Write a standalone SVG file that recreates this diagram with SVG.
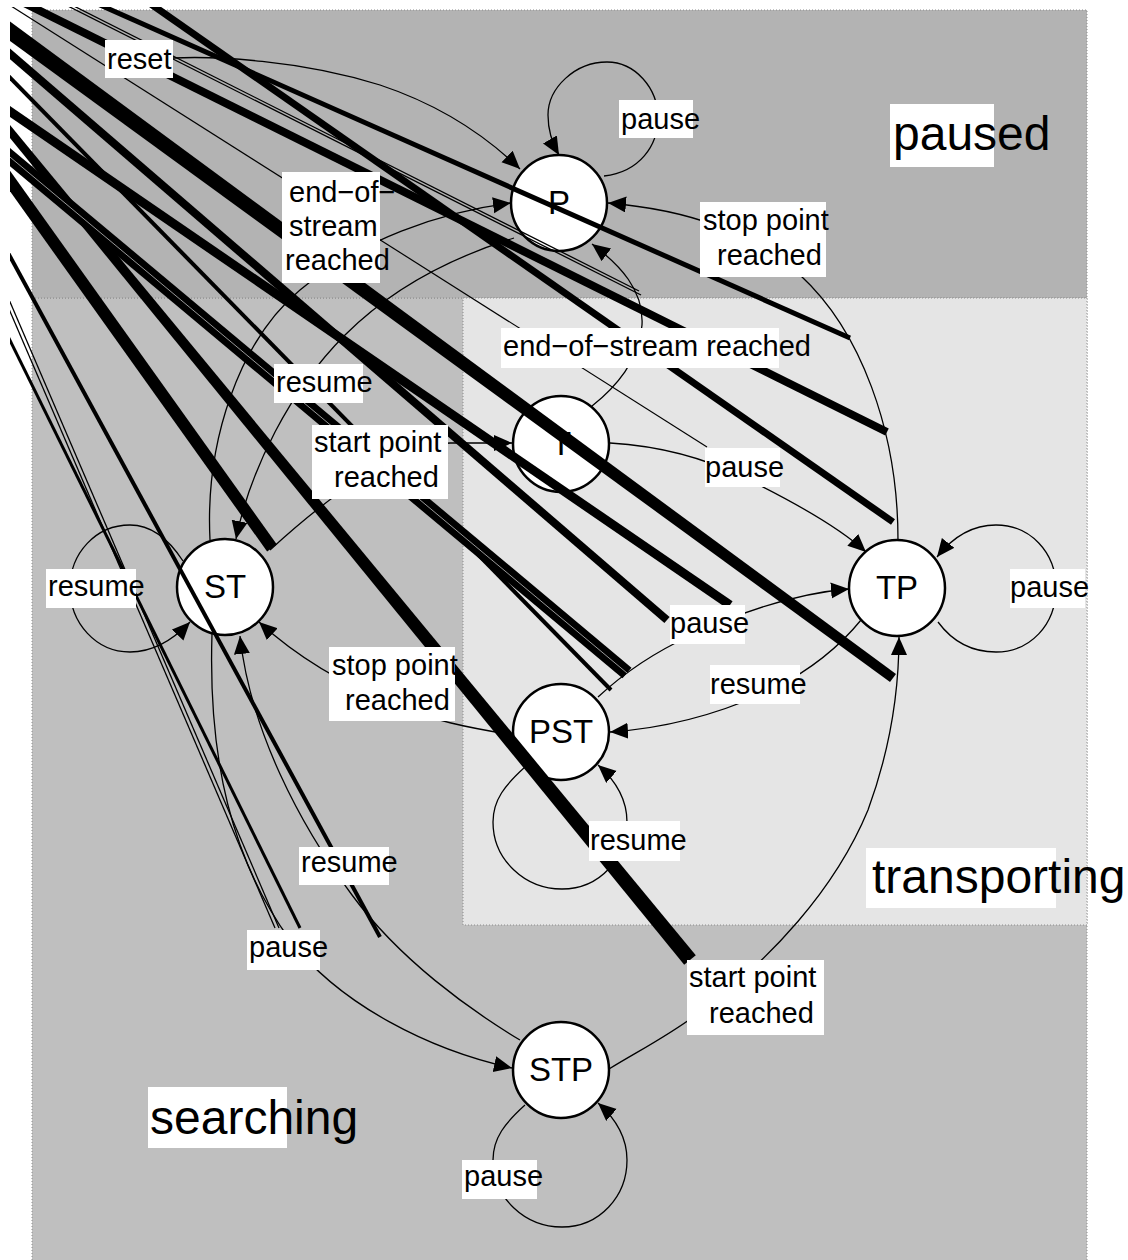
<svg xmlns="http://www.w3.org/2000/svg" width="1128" height="1260" viewBox="0 0 1128 1260">
<style>
.cl{stroke:#8c8c8c;stroke-width:1;stroke-dasharray:1 2}
.e{fill:none;stroke:#000;stroke-width:1.3}
.ea{fill:none;stroke:#000;stroke-width:1.3;marker-end:url(#ah)}
.n{fill:#fff;stroke:#000;stroke-width:2.5}
.nt{font-family:"Liberation Sans",Arial,sans-serif;font-size:33px;text-anchor:middle;fill:#000}
.lb{fill:#fff}
.lt{font-family:"Liberation Sans",Arial,sans-serif;font-size:29px;fill:#000}
.ct{font-family:"Liberation Sans",Arial,sans-serif;font-size:48px;fill:#000}
.st{stroke:#000;fill:none}
</style>
<defs>
<marker id="ah" markerUnits="userSpaceOnUse" markerWidth="20" markerHeight="18" refX="18" refY="8" orient="auto">
<path d="M0,0 L18,8 L0,16 z" fill="#000"/>
</marker>
<clipPath id="pg"><rect x="10" y="7" width="1118" height="1253"/></clipPath>
</defs>
<rect width="1128" height="1260" fill="#fff"/>
<g id="clusters">
<rect id="cluster-searching" class="cl" x="32" y="298" width="1055" height="980" fill="#bfbfbf"/>
<rect id="cluster-paused" class="cl" x="32" y="10" width="1055" height="288" fill="#b3b3b3"/>
<rect id="cluster-transporting" class="cl" x="463" y="298" width="624" height="627" fill="#e5e5e5"/>
</g>
<g id="connectors">
<path id="e-reset" class="ea" d="M173,58 C215,56 300,60 380,85 C440,105 485,135 520,169"/>
<path id="e-P-P" class="ea" d="M604,176 C640,172 658,145 658,118 C658,88 635,62 607,62 C575,62 548,88 548,115 C548,130 552,143 559,155"/>
<path id="e-ST-P" class="ea" d="M210,540 C205,440 240,340 300,290 C360,240 440,212 511,203"/>
<path id="e-TP-P" class="ea" d="M898,540 C898,430 860,330 800,275 C750,232 690,210 608,203"/>
<path id="e-T-P" class="ea" d="M592,406 C615,388 640,360 642,325 C644,290 620,265 592,244"/>
<path id="e-P-ST" class="ea" d="M514,238 C450,258 390,290 345,335 C290,390 250,470 236,539"/>
<path id="e-ST-T" class="ea" d="M270,550 C330,495 400,444 450,443 L512,443"/>
<path id="e-T-TP" class="ea" d="M610,443 C660,446 705,458 745,478 C800,505 840,528 866,552"/>
<path id="e-TP-TP" class="ea" d="M938,622 C955,645 975,652 996,652 C1030,652 1056,625 1056,588 C1056,552 1030,525 996,525 C972,525 952,538 937,557"/>
<path id="e-ST-ST" class="ea" d="M183,561 C168,538 150,525 130,525 C96,525 70,553 70,588 C70,623 96,652 130,652 C152,652 172,641 190,622"/>
<path id="e-PST-TP" class="ea" d="M598,697 C625,672 655,652 690,636 C745,610 800,593 849,589"/>
<path id="e-TP-PST" class="ea" d="M861,620 C840,646 810,670 775,688 C725,712 670,728 610,732"/>
<path id="e-PST-ST" class="ea" d="M513,735 C470,728 430,720 395,705 C340,683 295,655 259,622"/>
<path id="e-PST-PST" class="ea" d="M525,767 C505,785 493,800 493,822 C493,860 525,889 562,889 C600,889 627,858 627,822 C627,800 615,780 598,765"/>
<path id="e-STP-STP" class="ea" d="M525,1105 C505,1123 493,1138 493,1160 C493,1198 525,1227 562,1227 C600,1227 627,1196 627,1160 C627,1138 615,1118 598,1103"/>
<path id="e-STP-TP" class="ea" d="M609,1069 C640,1050 670,1035 700,1012 C770,960 835,890 868,810 C890,750 899,690 899,637"/>
<path id="e-STP-ST" class="ea" d="M520,1040 C470,1010 400,960 352,895 C300,825 250,730 240,636"/>
<path id="e-ST-STP" class="ea" d="M212,634 C208,760 232,860 290,940 C340,1005 430,1050 512,1068"/>
</g>
<g id="node-P"><circle class="n" cx="559" cy="203" r="48"/><text class="nt" x="559" y="214">P</text></g>
<g id="node-T"><circle class="n" cx="561" cy="444" r="48"/><text class="nt" x="561" y="455">T</text></g>
<g id="node-ST"><circle class="n" cx="225" cy="587" r="48"/><text class="nt" x="225" y="598">ST</text></g>
<g id="node-TP"><circle class="n" cx="897" cy="588" r="48"/><text class="nt" x="897" y="599">TP</text></g>
<g id="node-PST"><circle class="n" cx="561" cy="732" r="48"/><text class="nt" x="561" y="743">PST</text></g>
<g id="node-STP"><circle class="n" cx="561" cy="1070" r="48"/><text class="nt" x="561" y="1081">STP</text></g>
<g id="artifacts" clip-path="url(#pg)">
<line class="st" stroke-width="1.2" x1="0" y1="-1" x2="707" y2="447"/>
<line class="st" stroke-width="5" x1="55" y1="-15" x2="850" y2="338"/>
<line class="st" stroke-width="8" x1="-8" y1="-13" x2="887" y2="432"/>
<line class="st" stroke-width="7" x1="125" y1="-14" x2="893" y2="522"/>
<line class="st" stroke-width="1.3" x1="52" y1="-5" x2="639" y2="291"/>
<line class="st" stroke-width="1.3" x1="54" y1="-1" x2="641" y2="295"/>
<polygon fill="#000" points="-25.3,-4.5 896,674 890,682 -34.7,8.5"/>
<line class="st" stroke-width="8" x1="-20" y1="28" x2="667" y2="620"/>
<line class="st" stroke-width="4" x1="-20" y1="47" x2="611" y2="690"/>
<line class="st" stroke-width="9" x1="-20" y1="91" x2="730" y2="605"/>
<polygon fill="#000" points="-16.9,92.5 695.8,955.2 684.2,964.8 -23.1,97.5"/>
<line class="st" stroke-width="14" x1="-20" y1="132" x2="627" y2="673"/>
<line stroke="#bfbfbf" stroke-width="0.8" x1="-20" y1="132" x2="627" y2="673"/>
<line class="st" stroke-width="12" x1="-20" y1="139" x2="272" y2="548"/>
<line class="st" stroke-width="4" x1="0" y1="238" x2="380" y2="937"/>
<line class="st" stroke-width="1.3" x1="0" y1="288" x2="275" y2="928"/>
<line class="st" stroke-width="1.3" x1="4" y1="288" x2="279" y2="928"/>
<line class="st" stroke-width="3" x1="0" y1="320" x2="300" y2="928"/>
</g>
<g id="labels">
<rect class="lb" x="105" y="40" width="68" height="38"/><text class="lt" x="107" y="69">reset</text>
<rect class="lb" x="619" y="100" width="74" height="38"/><text class="lt" x="621" y="129">pause</text>
<rect class="lb" x="282" y="172" width="98" height="111"/>
<text class="lt" x="289" y="202">end−of−</text><text class="lt" x="289" y="236">stream</text><text class="lt" x="285" y="270">reached</text>
<rect class="lb" x="700" y="202" width="126" height="75"/>
<text class="lt" x="703" y="230">stop point</text><text class="lt" x="717" y="265">reached</text>
<rect class="lb" x="501" y="328" width="278" height="40"/><text class="lt" x="503" y="356">end−of−stream reached</text>
<rect class="lb" x="274" y="364" width="89" height="39"/><text class="lt" x="276" y="392">resume</text>
<rect class="lb" x="312" y="425" width="136" height="74"/>
<text class="lt" x="314" y="452">start point</text><text class="lt" x="334" y="487">reached</text>
<rect class="lb" x="705" y="448" width="75" height="39"/><text class="lt" x="705" y="477">pause</text>
<rect class="lb" x="1010" y="569" width="75" height="39"/><text class="lt" x="1010" y="597">pause</text>
<rect class="lb" x="46" y="569" width="90" height="39"/><text class="lt" x="48" y="596">resume</text>
<rect class="lb" x="670" y="605" width="75" height="39"/><text class="lt" x="670" y="633">pause</text>
<rect class="lb" x="329" y="647" width="126" height="74"/>
<text class="lt" x="332" y="675">stop point</text><text class="lt" x="345" y="710">reached</text>
<rect class="lb" x="710" y="665" width="90" height="39"/><text class="lt" x="710" y="694">resume</text>
<rect class="lb" x="589" y="821" width="91" height="40"/><text class="lt" x="590" y="850">resume</text>
<rect class="lb" x="299" y="847" width="90" height="38"/><text class="lt" x="301" y="872">resume</text>
<rect class="lb" x="247" y="930" width="73" height="40"/><text class="lt" x="249" y="957">pause</text>
<rect class="lb" x="687" y="960" width="137" height="75"/>
<text class="lt" x="689" y="987">start point</text><text class="lt" x="709" y="1023">reached</text>
<rect class="lb" x="462" y="1160" width="75" height="39"/><text class="lt" x="464" y="1186">pause</text>
</g>
<g id="cluster-labels">
<rect class="lb" x="890" y="104" width="104" height="63"/><text class="ct" x="893" y="150">paused</text>
<rect class="lb" x="866" y="848" width="190" height="60"/><text class="ct" x="872" y="893">transporting</text>
<rect class="lb" x="148" y="1087" width="139" height="61"/><text class="ct" x="150" y="1134">searching</text>
</g>
</svg>
